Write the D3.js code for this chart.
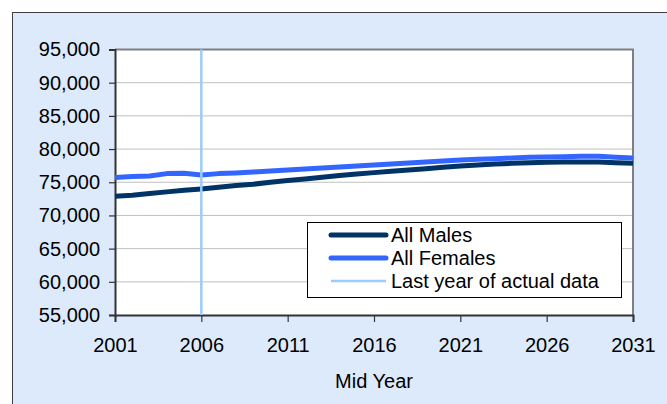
<!DOCTYPE html>
<html><head><meta charset="utf-8">
<script src="https://cdn.jsdelivr.net/npm/d3@7"></script>
<style>html,body{margin:0;padding:0;background:#fff;}svg{display:block;font-family:"Liberation Sans",Arial,sans-serif;}</style>
</head><body>
<svg id="c" width="667" height="404"></svg>
<script>
const years = d3.range(2001, 2032);
const males = [72900,73050,73300,73550,73800,74000,74250,74500,74700,75000,75250,75500,75750,76000,76250,76450,76650,76850,77050,77250,77450,77600,77750,77850,77950,78000,78050,78050,78050,77950,77850];
const females = [75700,75850,75950,76300,76350,76100,76300,76400,76550,76700,76850,77000,77150,77300,77450,77600,77750,77900,78050,78200,78350,78450,78550,78650,78750,78800,78850,78900,78900,78750,78650];
const lastActualYear = 2006;
const yTicks = [55000,60000,65000,70000,75000,80000,85000,90000,95000];
const xTicks = [2001,2006,2011,2016,2021,2026,2031];
const seriesNames = ["All Males","All Females","Last year of actual data"];
const colors = ["#003366","#3366FF","#99CCFF"];
const widths = [5,5,2.5];

const svg = d3.select("#c");
svg.append("rect").attr("x",12.5).attr("y",12.5).attr("width",700).attr("height",420)
  .attr("fill","#DCEAFC").attr("stroke","#404040").attr("stroke-width",1);

const x = d3.scaleLinear().domain([2001,2031]).range([115,633]);
const y = d3.scaleLinear().domain([55000,95000]).range([315,49.5]);

svg.append("rect").attr("x",x(2001)).attr("y",y(95000)).attr("width",x(2031)-x(2001)).attr("height",y(55000)-y(95000))
  .attr("fill","#fff");

svg.append("g").selectAll("line").data(yTicks.slice(1)).join("line")
  .attr("x1",x(2001)).attr("x2",x(2031)).attr("y1",d=>y(d)).attr("y2",d=>y(d))
  .attr("stroke","#C0C0C0").attr("stroke-width",1);

// plot border (top/right)
svg.append("path").attr("d",`M${x(2001)},${y(95000)}H${x(2031)}V${y(55000)}`)
  .attr("fill","none").attr("stroke","#808080").attr("stroke-width",2);

const yAxis = d3.axisLeft(y).tickValues(yTicks).tickSize(6).tickPadding(9).tickFormat(d3.format(","));
const gy = svg.append("g").attr("transform",`translate(${x(2001)},0)`).call(yAxis);
gy.select(".domain").attr("stroke","#333").attr("stroke-width",2);
gy.selectAll(".tick line").attr("stroke","#333").attr("stroke-width",1.2);
gy.selectAll(".tick text").attr("font-size",20).attr("fill","#000").attr("font-family","Liberation Sans, Arial, sans-serif");

const xAxis = d3.axisBottom(x).tickValues(xTicks).tickSize(7).tickPadding(16).tickFormat(d3.format("d"));
const gx = svg.append("g").attr("transform",`translate(0,${y(55000)})`).call(xAxis);
gx.select(".domain").attr("stroke","#333").attr("stroke-width",2);
gx.selectAll(".tick line").attr("stroke","#333").attr("stroke-width",1.2);
gx.selectAll(".tick text").attr("font-size",20).attr("fill","#000").attr("font-family","Liberation Sans, Arial, sans-serif");

svg.append("text").attr("x",374).attr("y",388).attr("text-anchor","middle")
  .attr("font-size",20).attr("fill","#000").text("Mid Year");

const line = d3.line().x((d,i)=>x(years[i])).y(d=>y(d));
[males,females].forEach((s,k)=>{
  svg.append("path").datum(s).attr("d",line).attr("fill","none")
    .attr("stroke",colors[k]).attr("stroke-width",widths[k])
    .attr("stroke-linejoin","round").attr("stroke-linecap","butt");
});
svg.append("line").attr("x1",x(lastActualYear)).attr("x2",x(lastActualYear))
  .attr("y1",y(95000)).attr("y2",y(55000)).attr("stroke",colors[2]).attr("stroke-width",widths[2]);

// legend
const lg = svg.append("g");
lg.append("rect").attr("x",307.5).attr("y",222.5).attr("width",314).attr("height",75)
  .attr("fill","#fff").attr("stroke","#000").attr("stroke-width",1);
const rowY = [235,258,281];
seriesNames.forEach((n,i)=>{
  lg.append("line").attr("x1",331).attr("x2",386).attr("y1",rowY[i]).attr("y2",rowY[i])
    .attr("stroke",colors[i]).attr("stroke-width",widths[i]).attr("stroke-linecap",i<2?"round":"butt");
  lg.append("text").attr("x",391).attr("y",rowY[i]).attr("dy","0.35em")
    .attr("font-size",20).attr("fill","#000").text(n);
});
</script>
</body></html>
